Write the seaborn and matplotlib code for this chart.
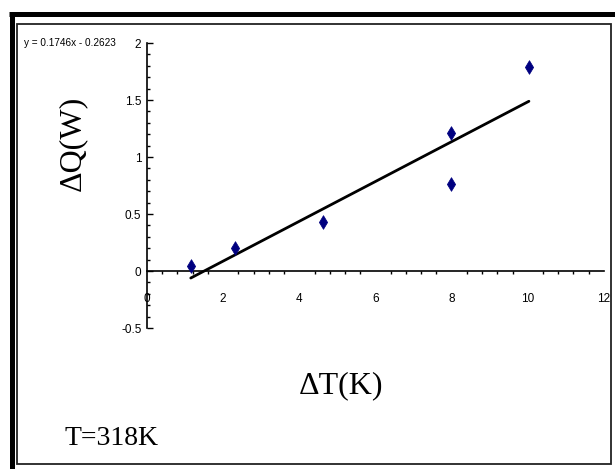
import matplotlib

matplotlib.use("Agg")

import matplotlib.pyplot as plt
import numpy as np
import pandas as pd
import seaborn as sns
from matplotlib.lines import Line2D
from matplotlib.patches import Rectangle
from matplotlib.ticker import MultipleLocator

# measured points (delta T in K, delta Q in W)
delta_t = [1.15, 2.31, 4.62, 7.98, 7.98, 10.03]
delta_q = [0.04, 0.20, 0.43, 1.21, 0.76, 1.79]

# excel trendline
slope = 0.1746
intercept = -0.2623

x_ticks = [0, 2, 4, 6, 8, 10, 12]
y_ticks = [-0.5, 0, 0.5, 1, 1.5, 2]

points = pd.DataFrame({"dT": delta_t, "dQ": delta_q})
fit_x = np.array([min(delta_t), max(delta_t)])
fit = pd.DataFrame({"dT": fit_x, "dQ": slope * fit_x + intercept})

sns.set_theme(style="white")
narrow = ["Liberation Sans Narrow", "Liberation Sans", "DejaVu Sans"]
serif = ["Liberation Serif", "DejaVu Serif"]
plt.rcParams["font.family"] = narrow

fig = plt.figure(figsize=(6.15, 4.69), dpi=100)
ax = fig.add_axes([0.239, 0.3006, 0.743, 0.6077])

sns.lineplot(data=fit, x="dT", y="dQ", color="black", linewidth=2, ax=ax)
sns.scatterplot(
    data=points, x="dT", y="dQ", marker="d", s=48,
    color="#000080", edgecolor="#000080", zorder=3, ax=ax,
)

ax.set_xlim(0, 12)
ax.set_ylim(-0.5, 2)
ax.set_xticks(x_ticks)
ax.set_yticks(y_ticks)
ax.set_xticklabels([f"{v:g}" for v in x_ticks])
ax.set_yticklabels([f"{v:g}" for v in y_ticks])
ax.xaxis.set_minor_locator(MultipleLocator(0.4))
ax.yaxis.set_minor_locator(MultipleLocator(0.1))

for side in ("top", "right"):
    ax.spines[side].set_visible(False)
ax.spines["bottom"].set_position(("data", 0))
for side in ("left", "bottom"):
    ax.spines[side].set_color("black")
    ax.spines[side].set_linewidth(1.2)

ax.tick_params(axis="x", which="major", direction="out", length=4, width=1,
               pad=12, labelsize=8.5, colors="black")
ax.tick_params(axis="x", which="minor", direction="out", length=2.5, width=1,
               bottom=True, colors="black")
ax.tick_params(axis="y", which="major", direction="in", length=4, width=1,
               pad=4, labelsize=8.5, colors="black", left=True)
ax.tick_params(axis="y", which="minor", direction="in", length=2.5, width=1,
               left=True, colors="black")

ax.set_xlabel("ΔT(K)", family=serif, fontsize=23, color="black",
              va="center", ha="center")
ax.xaxis.set_label_coords(0.4245, -0.2035)
ax.set_ylabel("ΔQ(W)", family=serif, fontsize=23, color="black",
              va="center", ha="center")
ax.yaxis.set_label_coords(-0.164, 0.649)

fig.text(0.039, 0.908, "y = 0.1746x - 0.2623", fontsize=7.2,
         va="center", ha="left", color="black")
fig.text(0.182, 0.066, "T=318K", family=serif, fontsize=20,
         va="center", ha="center", color="black")

# frame: thick top/left shadow plus thin inner box
fig.add_artist(Line2D([9 / 615, 1.0], [1 - 14.5 / 469] * 2, color="black",
                      linewidth=3.6, solid_capstyle="butt",
                      transform=fig.transFigure))
fig.add_artist(Line2D([11.5 / 615] * 2, [0.0, 1 - 12 / 469], color="black",
                      linewidth=3.6, solid_capstyle="butt",
                      transform=fig.transFigure))
fig.add_artist(Rectangle((17 / 615, 1 - 464 / 469), (611 - 17) / 615,
                         (464 - 24) / 469, fill=False, edgecolor="#222222",
                         linewidth=1.3, transform=fig.transFigure))

fig.savefig("out.png", dpi=100)
plt.close(fig)
